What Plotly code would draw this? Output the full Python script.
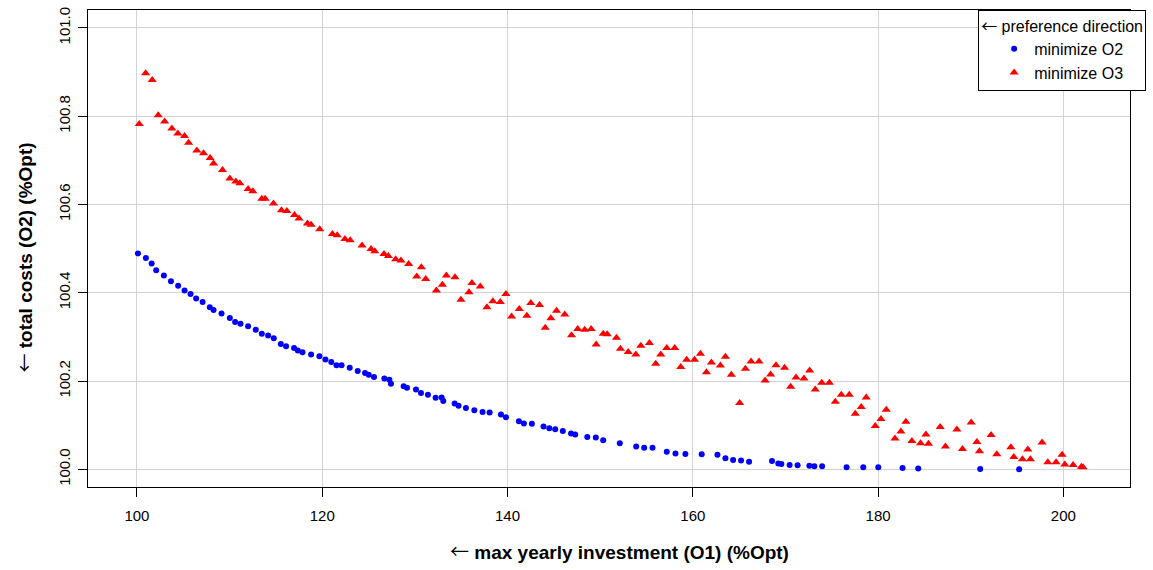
import plotly.graph_objects as go

# minimize O2 (blue circles)
o2_x = [100.11, 100.97, 101.59, 102.08, 102.91, 103.67, 104.45, 105.14, 105.79, 106.39,
        107.09, 107.87, 108.27, 109.13, 110.03, 110.60, 111.18, 112.00, 112.83, 113.48,
        114.16, 114.77, 115.53, 116.10, 116.96, 117.36, 117.87, 118.80, 119.70, 120.35,
        120.98, 121.54, 122.09, 122.97, 123.83, 124.62, 125.02, 125.59, 126.71, 127.25,
        127.42, 128.79, 129.15, 130.12, 130.66, 131.41, 132.24, 132.89, 133.07, 134.29,
        134.72, 135.51, 136.42, 137.31, 138.07, 139.29, 139.83, 141.23, 141.77, 142.63,
        143.89, 144.51, 145.15, 145.97, 146.86, 147.31, 148.61, 149.53, 150.33, 152.12,
        153.89, 154.75, 155.65, 157.19, 158.13, 159.20, 160.96, 162.66, 163.52, 164.35,
        165.21, 166.07, 168.55, 169.23, 169.56, 170.45, 171.31, 172.58, 173.12, 173.96,
        176.60, 178.40, 180.02, 182.64, 184.33, 191.02, 195.22]
o2_y = [100.489, 100.479, 100.466, 100.451, 100.439, 100.426, 100.416, 100.405, 100.397, 100.387,
        100.379, 100.367, 100.361, 100.353, 100.343, 100.334, 100.330, 100.324, 100.316, 100.307,
        100.303, 100.297, 100.284, 100.279, 100.275, 100.269, 100.265, 100.260, 100.256, 100.249,
        100.243, 100.236, 100.236, 100.230, 100.223, 100.218, 100.214, 100.209, 100.206, 100.203,
        100.194, 100.188, 100.185, 100.181, 100.173, 100.169, 100.162, 100.163, 100.155, 100.149,
        100.144, 100.139, 100.134, 100.130, 100.129, 100.124, 100.118, 100.109, 100.104, 100.103,
        100.097, 100.093, 100.091, 100.087, 100.081, 100.079, 100.073, 100.072, 100.066, 100.059,
        100.052, 100.049, 100.049, 100.040, 100.036, 100.035, 100.034, 100.033, 100.025, 100.021,
        100.020, 100.017, 100.019, 100.013, 100.012, 100.010, 100.009, 100.008, 100.007, 100.007,
        100.005, 100.005, 100.005, 100.003, 100.002, 100.001, 100.000]

# minimize O3 (red triangles)
o3_x = [100.25, 100.94, 101.65, 102.30, 102.99, 103.77, 104.42, 105.14, 105.58, 106.47,
        107.19, 107.90, 108.27, 109.24, 110.03, 110.68, 111.11, 112.00, 112.51, 113.48,
        113.84, 114.74, 115.60, 116.18, 117.01, 117.50, 118.41, 118.80, 119.73, 121.10,
        121.62, 122.45, 123.02, 124.30, 125.27, 125.67, 126.67, 127.14, 127.93, 128.50,
        129.33, 130.20, 130.70, 131.17, 132.32, 132.97, 133.40, 134.33, 134.97, 135.84,
        136.16, 137.06, 137.78, 138.42, 139.22, 139.83, 140.44, 141.27, 142.09, 142.52,
        143.46, 144.07, 144.68, 145.29, 146.18, 146.91, 147.58, 148.33, 149.03, 149.57,
        150.33, 150.76, 151.76, 152.19, 153.03, 153.85, 154.39, 155.32, 156.00, 156.54,
        157.19, 158.05, 158.70, 159.34, 160.18, 160.82, 161.47, 162.01, 162.98, 163.52,
        164.16, 165.06, 165.68, 166.29, 167.15, 167.80, 168.40, 168.98, 169.91, 170.56,
        171.14, 172.00, 172.61, 173.22, 173.92, 174.74, 175.38, 176.03, 176.89, 177.54,
        178.18, 178.72, 179.69, 180.31, 180.88, 181.82, 182.46, 183.00, 183.65, 184.58,
        185.16, 185.44, 186.70, 187.27, 188.50, 189.11, 190.05, 190.66, 190.94, 192.20,
        192.81, 194.33, 194.65, 195.58, 196.16, 196.44, 197.70, 198.32, 199.21, 199.86,
        200.15, 201.05, 201.94, 202.12]
o3_y = [100.782, 100.897, 100.882, 100.802, 100.788, 100.772, 100.761, 100.755, 100.740, 100.722,
        100.716, 100.705, 100.693, 100.678, 100.659, 100.652, 100.648, 100.635, 100.630, 100.613,
        100.613, 100.602, 100.587, 100.585, 100.576, 100.568, 100.557, 100.554, 100.544, 100.533,
        100.530, 100.522, 100.519, 100.507, 100.499, 100.494, 100.488, 100.483, 100.476, 100.473,
        100.465, 100.437, 100.458, 100.431, 100.405, 100.418, 100.439, 100.435, 100.384, 100.401,
        100.422, 100.414, 100.367, 100.381, 100.379, 100.397, 100.346, 100.363, 100.348, 100.377,
        100.372, 100.321, 100.342, 100.359, 100.351, 100.304, 100.318, 100.316, 100.318, 100.283,
        100.307, 100.306, 100.298, 100.273, 100.266, 100.260, 100.280, 100.286, 100.239, 100.260,
        100.275, 100.275, 100.232, 100.248, 100.248, 100.262, 100.220, 100.242, 100.235, 100.255,
        100.214, 100.150, 100.228, 100.244, 100.244, 100.201, 100.215, 100.236, 100.230, 100.187,
        100.208, 100.206, 100.224, 100.181, 100.196, 100.196, 100.153, 100.169, 100.169, 100.126,
        100.141, 100.163, 100.098, 100.114, 100.135, 100.070, 100.086, 100.108, 100.064, 100.059,
        100.079, 100.058, 100.096, 100.052, 100.090, 100.046, 100.106, 100.062, 100.041, 100.078,
        100.034, 100.050, 100.028, 100.023, 100.045, 100.023, 100.061, 100.016, 100.016, 100.033,
        100.011, 100.010, 100.006, 100.005]

x_ticks = [100, 120, 140, 160, 180, 200]
y_ticks = [100.0, 100.2, 100.4, 100.6, 100.8, 101.0]
y_ticklabels = ["100.0", "100.2", "100.4", "100.6", "100.8", "101.0"]

FONT = "Liberation Sans, Arial, sans-serif"
ARROW = '<span style="font-family:\'Noto Sans CJK SC\';font-weight:normal">\u2190</span>'

fig = go.Figure()
fig.add_trace(go.Scatter(x=o2_x, y=o2_y, mode="markers", name="minimize O2",
                         marker=dict(symbol="circle", size=6, color="#0000FF")))
fig.add_trace(go.Scatter(x=o3_x, y=o3_y, mode="markers", name="minimize O3",
                         marker=dict(symbol="triangle-up", size=8, color="#FF0000")))

axis_common = dict(showline=True, linecolor="black", linewidth=1, mirror=True,
                   ticks="outside", ticklen=9, tickcolor="black", tickwidth=1,
                   showgrid=True, gridcolor="#d3d3d3", gridwidth=1, zeroline=False,
                   tickfont=dict(family=FONT, size=15, color="black"))

fig.update_layout(
    width=1153, height=570,
    margin=dict(l=88, r=22, t=7, b=83),
    plot_bgcolor="white", paper_bgcolor="white",
    font=dict(family=FONT, size=15, color="black"),
    xaxis=dict(range=[94.72, 207.19], tickvals=x_ticks, ticklabelstandoff=6, **axis_common),
    yaxis=dict(range=[99.960, 101.0405], tickvals=y_ticks, ticktext=y_ticklabels,
               tickangle=-90, ticklabelstandoff=2, **axis_common),
    showlegend=True,
    legend=dict(x=(979 - 88) / 1043, y=1.0, xanchor="left", yanchor="top",
                bordercolor="black", borderwidth=1, bgcolor="white",
                title=dict(text=ARROW + " preference direction", font=dict(family=FONT, size=16)),
                font=dict(family=FONT, size=16), indentation=15,
                tracegroupgap=0, itemsizing="trace"),
    annotations=[
        dict(text=ARROW + " <b>max yearly investment (O1) (%Opt)</b>", xref="paper", yref="paper",
             x=(620 - 88) / 1043, y=(487 - 551) / 480, xanchor="center", yanchor="middle",
             showarrow=False, font=dict(family=FONT, size=19, color="black")),
        dict(text=ARROW + " <b>total costs (O2) (%Opt)</b>", xref="paper", yref="paper",
             x=(23 - 88) / 1043, y=(487 - 256) / 480, xanchor="center", yanchor="middle",
             textangle=-90, showarrow=False, font=dict(family=FONT, size=19, color="black")),
    ],
)

fig.write_html("out.html")
